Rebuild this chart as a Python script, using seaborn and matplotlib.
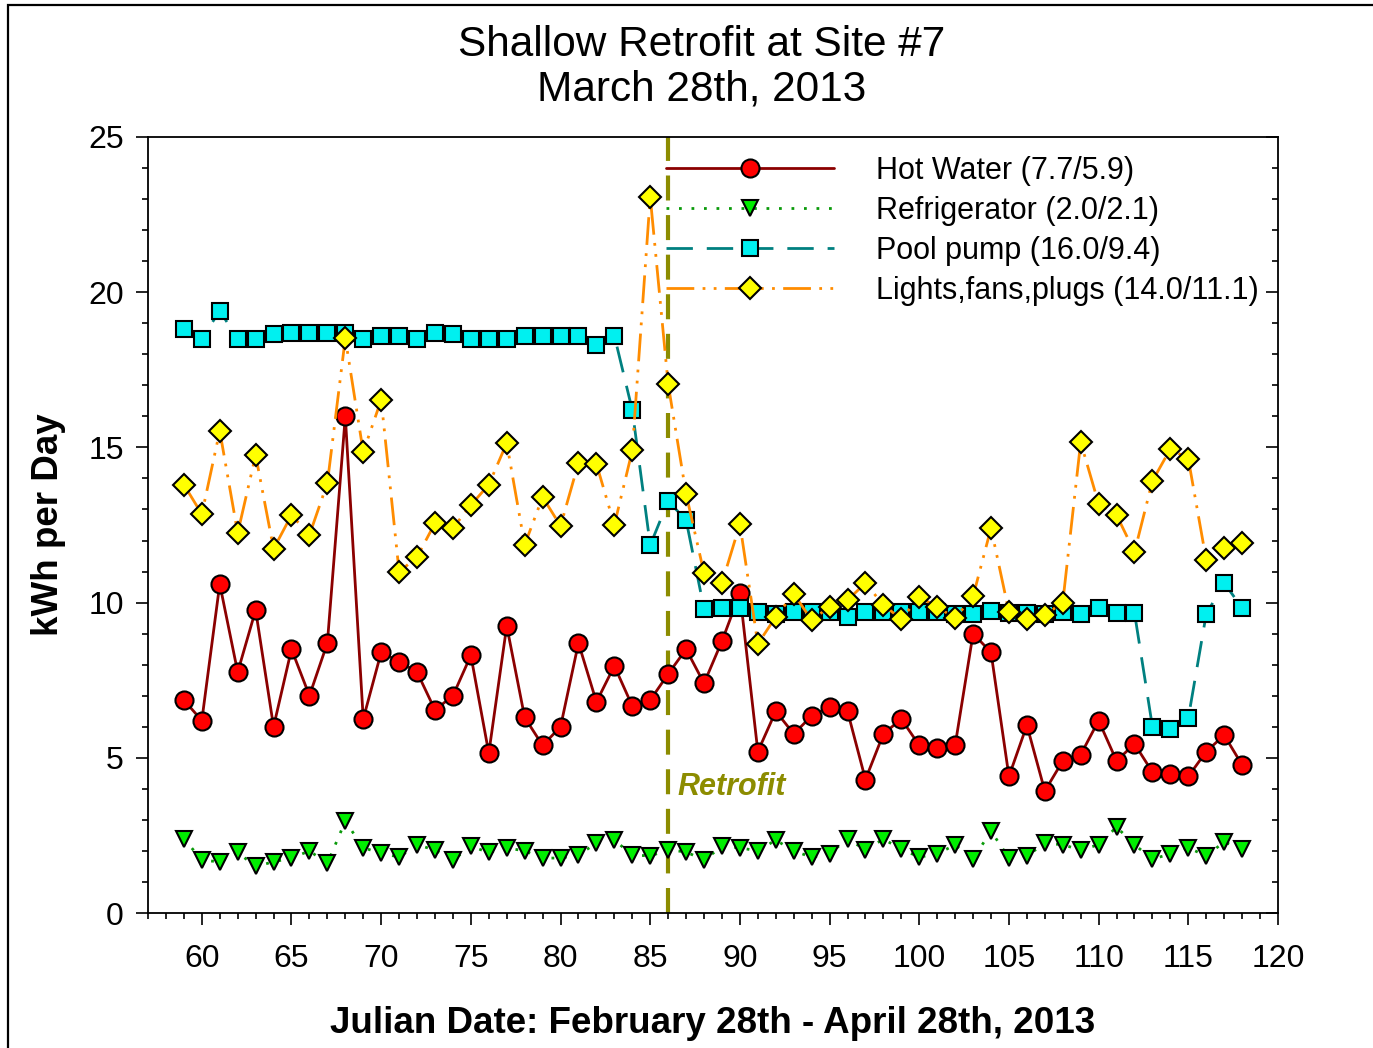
import numpy as np
import pandas as pd
import matplotlib
matplotlib.use("Agg")
import matplotlib.pyplot as plt
from matplotlib.patches import Rectangle
from matplotlib.ticker import MultipleLocator
import seaborn as sns

# Julian day numbers (Feb 28 - Apr 28, 2013)
days = list(range(59, 119))

hot_water = [6.86, 6.2, 10.6, 7.76, 9.76, 6.0, 8.5, 7.0, 8.7, 16.0,
             6.25, 8.4, 8.1, 7.76, 6.54, 7.0, 8.3, 5.15, 9.25, 6.3,
             5.4, 6.0, 8.7, 6.8, 7.96, 6.67, 6.86, 7.7, 8.5, 7.4,
             8.76, 10.3, 5.2, 6.5, 5.77, 6.35, 6.64, 6.5, 4.3, 5.77,
             6.25, 5.4, 5.3, 5.4, 9.0, 8.4, 4.4, 6.05, 3.93, 4.9,
             5.1, 6.2, 4.9, 5.45, 4.54, 4.48, 4.4, 5.2, 5.73, 4.77]

refrigerator = [2.4, 1.7, 1.65, 1.95, 1.5, 1.65, 1.77, 2.0, 1.6, 2.96,
                2.1, 1.93, 1.8, 2.2, 2.03, 1.7, 2.15, 1.95, 2.1, 2.0,
                1.77, 1.77, 1.87, 2.25, 2.35, 1.87, 1.84, 2.03, 1.97, 1.7,
                2.15, 2.1, 2.0, 2.35, 2.0, 1.8, 1.9, 2.4, 2.03, 2.38,
                2.06, 1.8, 1.9, 2.2, 1.74, 2.64, 1.77, 1.84, 2.25, 2.2,
                2.03, 2.2, 2.77, 2.2, 1.74, 1.9, 2.1, 1.84, 2.29, 2.06]

pool_pump = [18.8, 18.5, 19.4, 18.5, 18.5, 18.65, 18.7, 18.7, 18.7, 18.7,
             18.5, 18.6, 18.6, 18.5, 18.7, 18.65, 18.5, 18.5, 18.5, 18.6,
             18.6, 18.6, 18.6, 18.3, 18.6, 16.2, 11.85, 13.27, 12.66, 9.8,
             9.83, 9.83, 9.7, 9.63, 9.7, 9.7, 9.7, 9.54, 9.7, 9.7,
             9.7, 9.7, 9.7, 9.63, 9.63, 9.73, 9.67, 9.67, 9.63, 9.7,
             9.63, 9.83, 9.67, 9.67, 6.0, 5.93, 6.28, 9.63, 10.63, 9.83]

lights = [13.8, 12.85, 15.53, 12.24, 14.75, 11.73, 12.82, 12.18, 13.85, 18.52,
          14.85, 16.53, 10.99, 11.47, 12.56, 12.4, 13.14, 13.8, 15.14, 11.86,
          13.4, 12.47, 14.5, 14.47, 12.5, 14.9, 23.07, 17.04, 13.5, 10.95,
          10.63, 12.53, 8.67, 9.54, 10.28, 9.44, 9.86, 10.08, 10.63, 9.92,
          9.47, 10.18, 9.86, 9.5, 10.2, 12.4, 9.7, 9.47, 9.6, 10.0,
          15.17, 13.18, 12.82, 11.63, 13.92, 14.95, 14.63, 11.37, 11.76, 11.92]

labels = ["Hot Water (7.7/5.9)", "Refrigerator (2.0/2.1)",
          "Pool pump (16.0/9.4)", "Lights,fans,plugs (14.0/11.1)"]
retrofit_day = 86

sns.set_style("ticks")
plt.rcParams['font.family'] = ['Liberation Sans', 'DejaVu Sans']
plt.rcParams['text.color'] = 'black'
plt.rcParams['axes.labelcolor'] = 'black'
plt.rcParams['xtick.color'] = 'black'
plt.rcParams['ytick.color'] = 'black'
plt.rcParams['axes.edgecolor'] = 'black'

fig = plt.figure(figsize=(13.73, 10.48), dpi=100)
ax = fig.add_axes([0.1078, 0.1288, 0.823, 0.7405])

# retrofit marker line
ax.axvline(retrofit_day, color='#8c8c00', lw=3, ls=(0, (6, 3.5)), zorder=1.5)
ax.text(retrofit_day + 0.5, 4.06, "Retrofit", color='#8c8c00', fontsize=22,
        fontweight='bold', fontstyle='italic', va='center', ha='left')

# series
sns.lineplot(x=days, y=hot_water, ax=ax, label=labels[0], color='#8b0000', lw=2,
             marker='o', markersize=13, markerfacecolor='#ff0000',
             markeredgecolor='black', markeredgewidth=1.5, zorder=3)
sns.lineplot(x=days, y=refrigerator, ax=ax, label=labels[1], color='#0a9a0a', lw=2,
             linestyle=(0, (1, 3.5)), marker='v', markersize=12,
             markerfacecolor='#00ee00', markeredgecolor='black',
             markeredgewidth=1.5, zorder=3)
sns.lineplot(x=days, y=pool_pump, ax=ax, label=labels[2], color='#008080', lw=2,
             linestyle=(0, (9.5, 5)), marker='s', markersize=11.5,
             markerfacecolor='#00f0f0', markeredgecolor='black',
             markeredgewidth=1.5, zorder=3)
sns.lineplot(x=days, y=lights, ax=ax, label=labels[3], color='#ff8c00', lw=2,
             linestyle=(0, (10, 3, 1, 3, 1, 3)), marker='D', markersize=11,
             markerfacecolor='#ffff00', markeredgecolor='black',
             markeredgewidth=1.5, zorder=3)

ax.set_xlim(57, 120)
ax.set_ylim(0, 25)
ax.xaxis.set_major_locator(MultipleLocator(5))
ax.xaxis.set_minor_locator(MultipleLocator(1))
ax.yaxis.set_major_locator(MultipleLocator(5))
ax.yaxis.set_minor_locator(MultipleLocator(1))

for s in ax.spines.values():
    s.set_linewidth(1.3)
    s.set_visible(True)
ax.tick_params(axis='both', which='major', length=8.5, width=1.2, labelsize=23)
ax.tick_params(axis='both', which='minor', length=4.5, width=1.2)
ax.tick_params(axis='x', which='both', pad=14, bottom=True, top=False)
ax.tick_params(axis='y', which='both', pad=9, left=True, right=True,
               direction='out')
# right side ticks point into the plot
for t in ax.yaxis.get_major_ticks() + ax.yaxis.get_minor_ticks():
    t.tick2line.set_marker(matplotlib.lines.TICKLEFT)

ax.set_xlabel("Julian Date: February 28th - April 28th, 2013", fontsize=26.5,
              fontweight='bold', labelpad=23)
ax.set_ylabel("kWh per Day", fontsize=26.5, fontweight='bold', labelpad=16)
ax.set_title("Shallow Retrofit at Site #7\nMarch 28th, 2013", fontsize=30.5,
             pad=26, linespacing=1.15, x=0.49)

ax.legend(loc='upper left', bbox_to_anchor=(0.458, 0.976), frameon=False,
          fontsize=22, handlelength=5.5, handletextpad=1.4, labelspacing=0.33,
          borderpad=0, borderaxespad=0)

# outer border of the picture
fig.patches.append(Rectangle((0.0058, -0.1), 1.2, 1.0952, transform=fig.transFigure,
                             fill=False, lw=1.6, ec='black', clip_on=False))

fig.savefig("out.png", dpi=100)
